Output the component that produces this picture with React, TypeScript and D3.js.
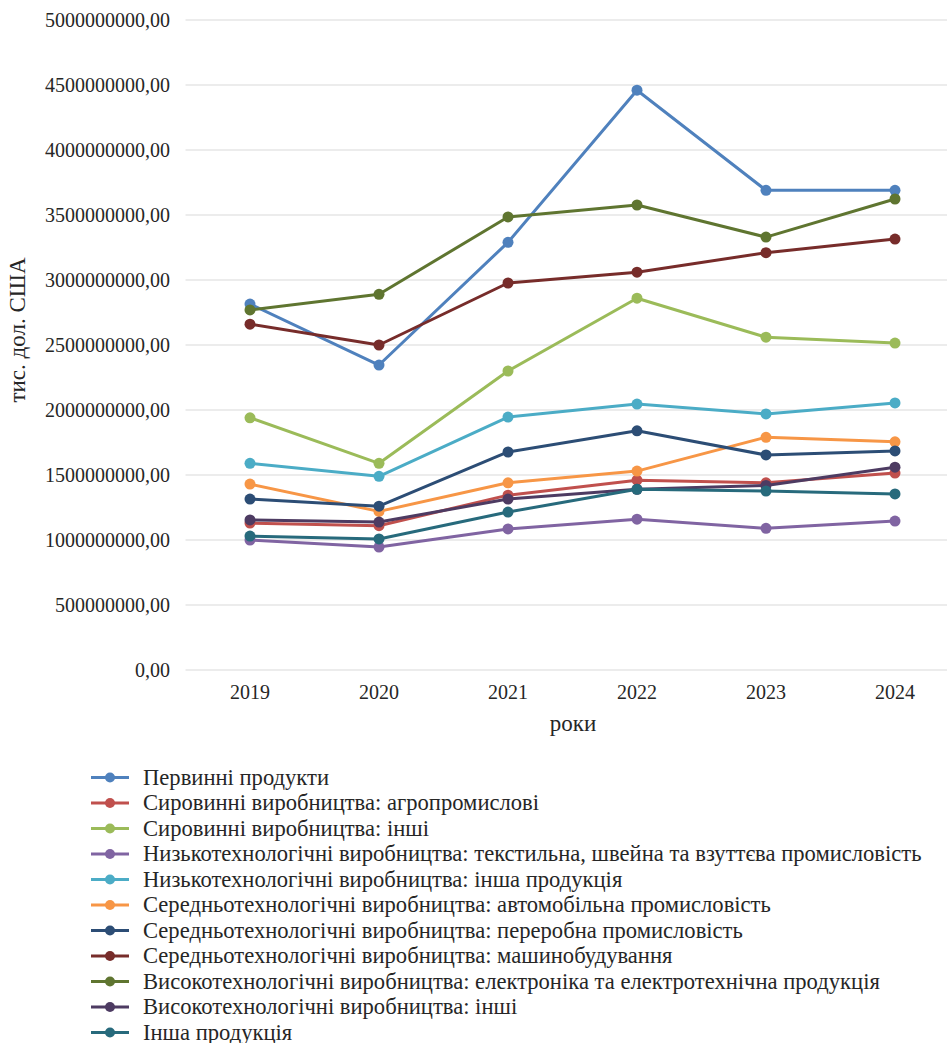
import React from "react";
import * as d3 from "d3";

const years = ["2019", "2020", "2021", "2022", "2023", "2024"];

const seriesNames = [
  "Первинні продукти",
  "Сировинні виробництва: агропромислові",
  "Сировинні виробництва: інші",
  "Низькотехнологічні виробництва: текстильна, швейна та взуттєва промисловість",
  "Низькотехнологічні виробництва: інша продукція",
  "Середньотехнологічні виробництва: автомобільна промисловість",
  "Середньотехнологічні виробництва: переробна промисловість",
  "Середньотехнологічні виробництва: машинобудування",
  "Високотехнологічні виробництва: електроніка та електротехнічна продукція",
  "Високотехнологічні виробництва: інші",
  "Інша продукція",
];

const seriesColors = [
  "#4F81BD", "#C0504D", "#9BBB59", "#8064A2", "#4BACC6", "#F79646",
  "#2C4D75", "#772C2A", "#5F7530", "#4D3B62", "#276A7C",
];

// values in thousand USD
const primary = [2815e6, 2346e6, 3290e6, 4460e6, 3690e6, 3690e6];
const agro = [1130e6, 1110e6, 1345e6, 1460e6, 1440e6, 1515e6];
const rawOther = [1940e6, 1590e6, 2300e6, 2860e6, 2560e6, 2515e6];
const textile = [1000e6, 946e6, 1085e6, 1160e6, 1090e6, 1146e6];
const lowOther = [1590e6, 1490e6, 1946e6, 2046e6, 1970e6, 2054e6];
const auto = [1430e6, 1220e6, 1440e6, 1530e6, 1790e6, 1755e6];
const processing = [1315e6, 1260e6, 1677e6, 1840e6, 1654e6, 1685e6];
const machinery = [2660e6, 2500e6, 2977e6, 3060e6, 3210e6, 3315e6];
const electronics = [2770e6, 2890e6, 3485e6, 3577e6, 3330e6, 3623e6];
const highOther = [1154e6, 1138e6, 1315e6, 1390e6, 1420e6, 1560e6];
const otherProducts = [1030e6, 1008e6, 1215e6, 1390e6, 1377e6, 1354e6];

const seriesValues = [
  primary, agro, rawOther, textile, lowOther, auto,
  processing, machinery, electronics, highOther, otherProducts,
];

const yTicks = d3.range(0, 5000000001, 500000000);

const serif: React.CSSProperties = { fontFamily: "'Liberation Serif', serif" };

const App = () => {
  const width = 947;
  const height = 1043;

  const x = d3.scaleBand().domain(years).range([185.5, 959.5]);
  const y = d3.scaleLinear().domain([0, 5e9]).range([670, 20]);

  const line = d3
    .line<number>()
    .x((_, i) => x(years[i])! + x.bandwidth() / 2)
    .y((d) => y(d));

  const fmt = (v: number) => v.toFixed(2).replace(".", ",");

  return (
    <svg width={width} height={height} style={{ position: "absolute", left: 0, top: 0 }}>
      <rect width={width} height={height} fill="#fff" />
      {yTicks.map((t) => (
        <g key={t}>
          <line x1={185.5} x2={960} y1={y(t)} y2={y(t)} stroke="#d9d9d9" strokeWidth={1} />
          <text x={170} y={y(t)} dy="0.34em" textAnchor="end" fontSize={20} fill="#262626" style={serif}>
            {fmt(t)}
          </text>
        </g>
      ))}
      {years.map((yr) => (
        <text key={yr} x={x(yr)! + x.bandwidth() / 2} y={699} textAnchor="middle" fontSize={20} fill="#262626" style={serif}>
          {yr}
        </text>
      ))}
      <text x={573} y={731} textAnchor="middle" fontSize={23} fill="#262626" style={serif}>роки</text>
      <text transform="translate(25,330) rotate(-90)" textAnchor="middle" fontSize={23} fill="#262626" style={serif}>
        тис. дол. США
      </text>
      {seriesValues.map((vals, si) => (
        <g key={si}>
          <path d={line(vals) ?? ""} fill="none" stroke={seriesColors[si]} strokeWidth={3} strokeLinejoin="round" />
          {vals.map((v, i) => (
            <circle key={i} cx={x(years[i])! + x.bandwidth() / 2} cy={y(v)} r={5.5} fill={seriesColors[si]} />
          ))}
        </g>
      ))}
      {seriesNames.map((name, i) => {
        const ly = 777.5 + i * 25.5;
        return (
          <g key={name}>
            <line x1={91} x2={129} y1={ly} y2={ly} stroke={seriesColors[i]} strokeWidth={3} />
            <circle cx={110} cy={ly} r={5} fill={seriesColors[i]} />
            <text x={143} y={ly} dy="0.33em" fontSize={22.6} fill="#262626" style={serif}>{name}</text>
          </g>
        );
      })}
    </svg>
  );
};

export default App;
